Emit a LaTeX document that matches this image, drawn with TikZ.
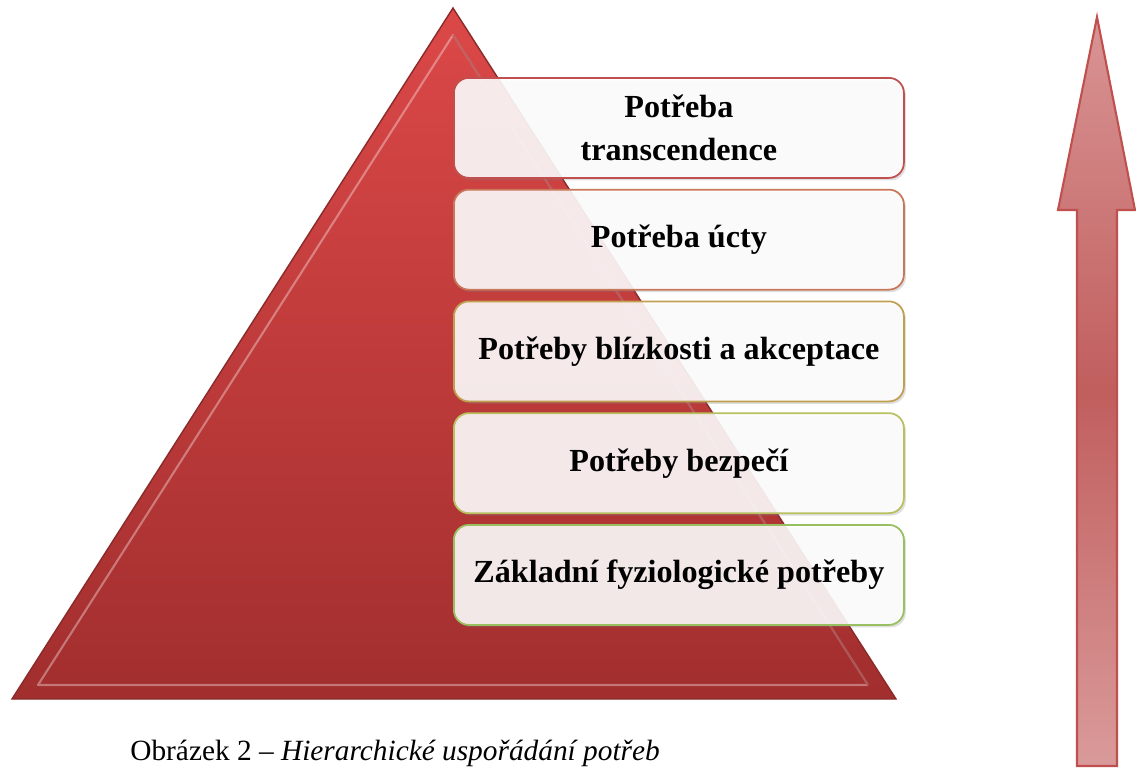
\documentclass[tikz,border=0pt]{standalone}
\usepackage{fontspec}
\setmainfont{Liberation Serif}
\usepackage{xcolor}
\usetikzlibrary{positioning, shadows}
\definecolor{pyrtop}{HTML}{DC4848}
\definecolor{pyrbot}{HTML}{A22E2E}
\definecolor{pyredge}{HTML}{8A2A2A}
\definecolor{arrtop}{HTML}{D99494}
\definecolor{arrmid}{HTML}{C15E5E}
\definecolor{arrbot}{HTML}{DA9A9A}
\definecolor{arredge}{HTML}{C0504D}
\definecolor{lvlA}{HTML}{C05050}
\definecolor{lvlB}{HTML}{C8785A}
\definecolor{lvlC}{HTML}{C0A050}
\definecolor{lvlD}{HTML}{B8C060}
\definecolor{lvlE}{HTML}{98C060}
\tikzset{
    level/.style = {rectangle, rounded corners=0.3cm, minimum width=9cm, minimum height=2cm, text centered, align=center, line width=1pt, fill=white, fill opacity=0.88, text opacity=1, font=\fontsize{18.3}{24}\selectfont\bfseries, drop shadow={opacity=0.25, shadow xshift=0.04cm, shadow yshift=-0.05cm}},
    pyramid/.style = {draw=pyredge, line width=0.8pt, top color=pyrtop, bottom color=pyrbot},
    bevel/.style = {line width=1.2pt, line join=round},
    bigarrow/.style = {draw=arredge, line width=1.2pt, top color=arrtop, bottom color=arrbot, middle color=arrmid}
}
\begin{document}
\begin{tikzpicture}
\useasboundingbox (0,0) rectangle (22.72,-15.38);

% pyramid
\coordinate (apex) at (9.06,-0.16);
\coordinate (baseL) at (0.24,-13.98);
\coordinate (baseR) at (17.92,-13.98);
\draw [pyramid] (apex) -- (baseR) -- (baseL) -- cycle;
\coordinate (inApex) at (9.06,-0.70);
\coordinate (inL) at (0.76,-13.70);
\coordinate (inR) at (17.36,-13.70);
\draw [bevel, white, opacity=0.35] (inR) -- (inApex) -- (inL) -- (inR);
\draw [bevel, pyredge, opacity=0.4] (inApex) -- (inR);

% levels
\node (transc) [level, draw=lvlA, anchor=north west] at (9.06,-1.54) {Potřeba\\transcendence};
\node (ucta) [level, draw=lvlB, below=0.2cm of transc] {Potřeba úcty};
\node (blizkost) [level, draw=lvlC, below=0.2cm of ucta] {Potřeby blízkosti a akceptace};
\node (bezpeci) [level, draw=lvlD, below=0.2cm of blizkost] {Potřeby bezpečí};
\node (zakladni) [level, draw=lvlE, below=0.2cm of bezpeci] {Základní fyziologické potřeby};

% arrow
\coordinate (tip) at (21.94,-0.34);
\draw [bigarrow] (tip) -- (22.70,-4.20) -- (22.34,-4.20) -- (22.34,-15.32) -- (21.54,-15.32) -- (21.54,-4.20) -- (21.16,-4.20) -- cycle;

% caption
\node (popis) [anchor=base west, font=\fontsize{16.7}{20}\selectfont, inner sep=0pt] at (2.6,-15.2) {Obrázek 2 -- \textit{Hierarchické uspořádání potřeb}};
\end{tikzpicture}
\end{document}
